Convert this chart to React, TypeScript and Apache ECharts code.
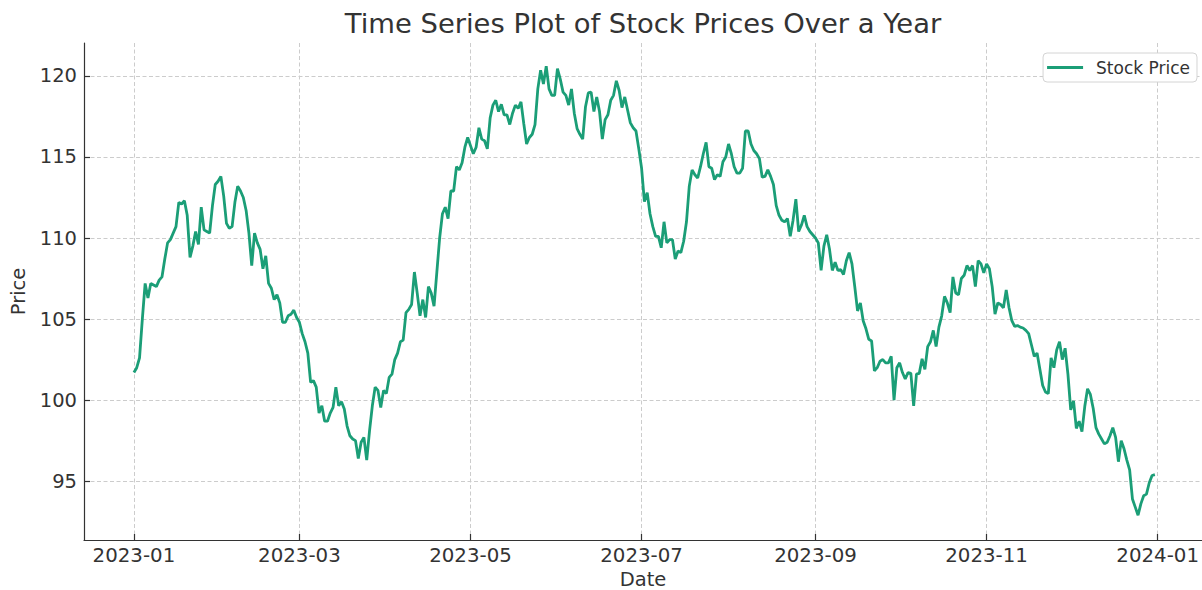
import React, { useEffect, useRef } from "react";
import * as echarts from "echarts";

const TITLE = "Time Series Plot of Stock Prices Over a Year";
const X_NAME = "Date";
const Y_NAME = "Price";
const SERIES_NAME = "Stock Price";
const START = [2023, 0, 1];

// one closing value per day, 2023-01-01 .. 2023-12-31
const prices: number[] = [
  101.7, 102.0, 102.6, 105.0, 107.2, 106.3, 107.2, 107.1, 107.0, 107.4,
  107.6, 108.7, 109.7, 109.9, 110.3, 110.7, 112.2, 112.1, 112.3, 111.4,
  108.8, 109.5, 110.4, 109.6, 111.9, 110.5, 110.4, 110.3, 112.0, 113.3,
  113.5, 113.8, 112.6, 110.9, 110.6, 110.7, 112.2, 113.2, 112.9, 112.5,
  111.7, 110.3, 108.3, 110.3, 109.7, 109.3, 108.1, 108.9, 107.2, 106.9,
  106.2, 106.5, 106.0, 104.8, 104.8, 105.2, 105.3, 105.55, 105.1, 104.8,
  104.1, 103.6, 102.9, 101.1, 101.2, 100.8, 99.2, 99.65, 98.7, 98.7,
  99.2, 99.55, 100.8, 99.65, 99.9, 99.45, 98.4, 97.8, 97.6, 97.5,
  96.4, 97.4, 97.7, 96.3, 98.1, 99.65, 100.8, 100.6, 99.55, 100.6,
  100.4, 101.4, 101.6, 102.5, 102.9, 103.6, 103.7, 105.4, 105.6, 105.9,
  107.9, 106.6, 105.2, 106.2, 105.1, 107.0, 106.6, 105.8, 107.9, 110.0,
  111.5, 111.9, 111.2, 112.9, 112.9, 114.4, 114.2, 114.65, 115.6, 116.2,
  115.7, 115.2, 115.6, 116.8, 116.1, 116.0, 115.5, 117.4, 118.2, 118.5,
  117.8, 118.25, 117.6, 117.6, 117.0, 117.7, 118.2, 118.0, 118.4, 117.05,
  115.8, 116.2, 116.4, 117.0, 119.2, 120.35, 119.5, 120.6, 119.2, 118.8,
  118.8, 120.45, 119.8, 119.0, 118.8, 118.2, 119.2, 117.7, 116.75, 116.4,
  116.1, 118.1, 118.95, 119.0, 117.8, 118.7, 117.8, 116.1, 117.3, 117.6,
  118.5, 118.8, 119.7, 119.1, 118.05, 118.7, 117.9, 117.1, 116.8, 116.6,
  115.5, 114.3, 112.25, 112.8, 111.5, 110.7, 110.1, 110.1, 109.4, 111.0,
  109.7, 109.9, 109.9, 108.7, 109.2, 109.1, 109.8, 111.0, 113.2, 114.2,
  113.9, 113.7, 114.4, 115.2, 115.9, 114.4, 114.3, 113.6, 113.9, 113.8,
  114.7, 115.0, 115.8, 115.2, 114.4, 114.0, 114.0, 114.3, 116.6, 116.6,
  115.8, 115.4, 115.2, 114.9, 113.75, 113.8, 114.2, 113.8, 113.3, 112.0,
  111.4, 111.1, 111.0, 111.2, 110.1, 111.1, 112.4, 110.4, 110.8, 111.4,
  110.7, 110.4, 110.2, 110.0, 109.7, 108.0, 109.5, 110.2, 109.3, 108.0,
  108.5, 108.0, 108.05, 107.75, 108.6, 109.1, 108.4, 107.0, 105.5, 106.0,
  104.9, 104.4, 103.75, 103.65, 101.8, 102.0, 102.4, 102.5, 102.3, 102.3,
  102.7, 100.0, 102.0, 102.3, 101.7, 101.3, 101.7, 101.65, 99.65, 101.6,
  101.65, 102.55, 101.9, 103.3, 103.6, 104.3, 103.3, 104.5, 105.2, 106.4,
  106.0, 105.4, 107.6, 106.6, 106.5, 107.5, 107.7, 108.3, 108.0, 108.3,
  107.0, 108.6, 108.4, 107.85, 108.4, 108.1, 107.0, 105.3, 106.0, 105.9,
  105.7, 106.8, 105.7, 104.9, 104.55, 104.6, 104.5, 104.45, 104.3, 104.1,
  103.4, 102.7, 102.9, 101.9, 100.9, 100.5, 100.4, 102.6, 102.0, 103.1,
  103.6, 102.5, 103.2, 101.6, 99.4, 99.95, 98.25, 98.7, 98.05, 99.6,
  100.7, 100.35, 99.5, 98.3, 97.9, 97.6, 97.3, 97.4, 97.8, 98.3,
  97.7, 96.2, 97.5, 97.0, 96.3, 95.7, 93.9, 93.4, 92.9, 93.6,
  94.1, 94.2, 94.9, 95.35, 95.4,
];

// x tick positions (year, month index) and their labels
const xTickDates: number[][] = [
  [2023, 0], [2023, 2], [2023, 4], [2023, 6], [2023, 8], [2023, 10], [2024, 0],
];
const xTickLabels = ["2023-01", "2023-03", "2023-05", "2023-07", "2023-09", "2023-11", "2024-01"];
const yTicks = [95, 100, 105, 110, 115, 120];

const DAY = 86400000;
const TEXT = "#333333";
const FONT = "DejaVu Sans";
const LINE_COLOR = "#1b9e77";

export default function App() {
  const ref = useRef<HTMLDivElement>(null);

  useEffect(() => {
    if (!ref.current) return;
    const chart = echarts.init(ref.current, undefined, { renderer: "svg" });

    // x values are day offsets from START (calendar days, via Date)
    const t0 = Date.UTC(START[0], START[1], START[2]);
    const dayOf = (y: number, m: number, d: number) =>
      Math.round((Date.UTC(y, m, d) - t0) / DAY);
    const data = prices.map((v, i) => [dayOf(START[0], START[1], START[2] + i), v]);
    const xTicks = xTickDates.map(([y, m]) => dayOf(y, m, 1));
    const labelOf = (v: number) => {
      let best = 0;
      for (let i = 1; i < xTicks.length; i++) {
        if (Math.abs(xTicks[i] - v) < Math.abs(xTicks[best] - v)) best = i;
      }
      return xTickLabels[best];
    };

    const gridLine = { show: true, lineStyle: { type: [4, 2.5], color: "#cccccc", width: 1 } };
    const spine = { show: true, onZero: false, lineStyle: { color: "#333333", width: 1.2 } };
    const tick = (values: number[]) => ({
      show: true,
      inside: true,
      customValues: values,
      length: 6,
      lineStyle: { color: "#333333", width: 1.2 },
    });

    chart.setOption({
      animation: false,
      backgroundColor: "#ffffff",
      textStyle: { fontFamily: FONT },
      graphic: [
        {
          type: "text",
          x: 643,
          y: 23,
          style: {
            text: TITLE,
            fill: TEXT,
            fontSize: 27.4,
            fontFamily: FONT,
            align: "center",
            verticalAlign: "middle",
            textAlign: "center",
            textVerticalAlign: "middle",
          },
        },
      ],
      legend: {
        data: [SERIES_NAME],
        right: 5,
        top: 53,
        icon: "rect",
        backgroundColor: "#ffffff",
        borderColor: "#d4d4d4",
        borderWidth: 1,
        borderRadius: 4,
        padding: [6, 7, 6, 4],
        itemWidth: 36,
        itemHeight: 2.8,
        itemStyle: { color: LINE_COLOR },
        textStyle: { fontSize: 17, color: TEXT, fontFamily: FONT, padding: [0, 0, 0, 8] },
      },
      grid: { left: 84, right: 0, top: 43, bottom: 50, outerBoundsMode: "none", containLabel: false },
      xAxis: {
        type: "value",
        min: -17.8,
        max: 380.8,
        name: X_NAME,
        nameLocation: "middle",
        nameGap: 29,
        nameTextStyle: { fontSize: 19.5, color: TEXT, fontFamily: FONT },
        axisLine: spine,
        axisTick: tick(xTicks),
        axisLabel: {
          customValues: xTicks,
          formatter: (v: number) => labelOf(v),
          fontSize: 19.8,
          color: TEXT,
          fontFamily: FONT,
          margin: 5,
        },
        splitLine: gridLine,
      },
      yAxis: {
        type: "value",
        min: 91.37,
        max: 122.03,
        name: Y_NAME,
        nameLocation: "middle",
        nameRotate: 90,
        nameGap: 47,
        nameTextStyle: { fontSize: 19.5, color: TEXT, fontFamily: FONT },
        axisLine: spine,
        axisTick: tick(yTicks),
        axisLabel: {
          customValues: yTicks,
          fontSize: 19.5,
          color: TEXT,
          fontFamily: FONT,
          margin: 7,
        },
        splitLine: gridLine,
      },
      series: [
        {
          type: "line",
          name: SERIES_NAME,
          data,
          symbol: "none",
          showSymbol: false,
          lineStyle: { color: LINE_COLOR, width: 2.8 },
          itemStyle: { color: LINE_COLOR },
        },
      ],
    });

    return () => chart.dispose();
  }, []);

  return (
    <div
      ref={ref}
      style={{ position: "absolute", left: 0, top: 0, width: 1202, height: 590 }}
    />
  );
}
